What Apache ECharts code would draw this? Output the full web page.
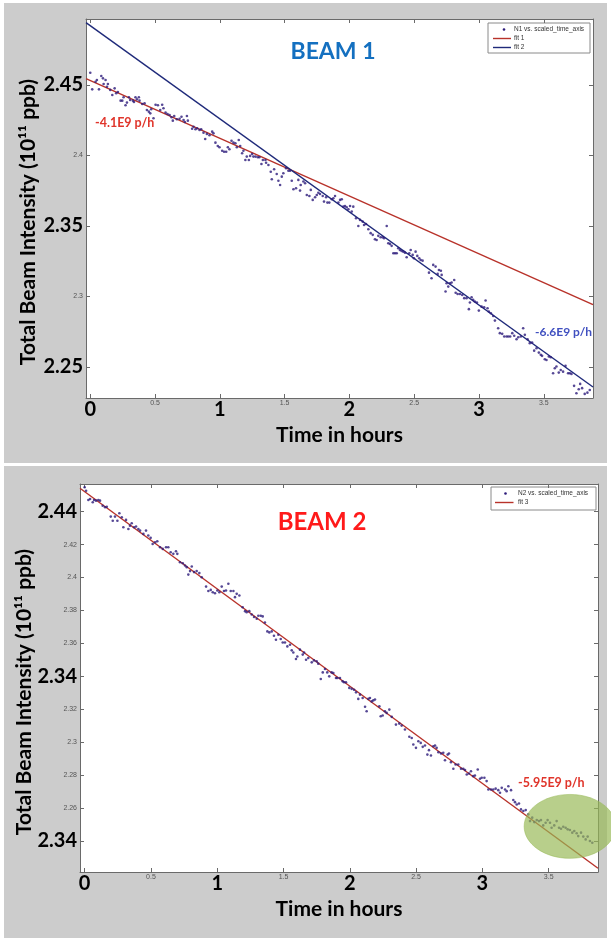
<!DOCTYPE html>
<html><head><meta charset="utf-8">
<script src="https://cdn.jsdelivr.net/npm/echarts@6/dist/echarts.min.js"></script>
<style>
html,body{margin:0;padding:0;background:#fff;width:611px;height:938px;overflow:hidden;}
#bg1{position:absolute;left:4px;top:3px;width:603px;height:460px;background:#cccccc;}
#bg2{position:absolute;left:4px;top:466px;width:603px;height:472px;background:#cccccc;}
#chart{position:absolute;left:0;top:0;width:611px;height:938px;}
</style></head><body>
<div id="bg1"></div><div id="bg2"></div><div id="chart"></div>
<script>
// ---------- DATA ----------
const b1Time = [0.000,0.015,0.041,0.051,0.067,0.085,0.098,0.103,0.118,0.129,0.136,0.154,0.170,0.188,0.200,0.213,0.234,0.247,0.257,0.272,0.283,0.298,0.308,0.329,0.337,0.349,0.360,0.375,0.380,0.401,0.419,0.437,0.452,0.463,0.470,0.488,0.504,0.522,0.540,0.555,0.565,0.581,0.596,0.612,0.627,0.637,0.648,0.668,0.689,0.704,0.720,0.730,0.746,0.753,0.786,0.797,0.812,0.825,0.843,0.856,0.874,0.887,0.900,0.920,0.941,0.951,0.966,0.984,0.997,1.018,1.033,1.049,1.062,1.074,1.090,1.105,1.120,1.131,1.146,1.157,1.172,1.182,1.197,1.208,1.224,1.234,1.249,1.259,1.275,1.293,1.305,1.321,1.332,1.352,
1.357,1.375,1.393,1.401,1.419,1.439,1.452,1.465,1.478,1.490,1.511,1.529,1.542,1.555,1.568,1.588,1.606,1.619,1.624,1.645,1.658,1.671,1.691,1.702,1.717,1.735,1.748,1.760,1.773,1.794,1.804,1.820,1.830,1.845,1.864,1.876,1.889,1.915,1.928,1.941,1.953,1.966,1.979,1.992,2.005,2.018,2.030,2.051,2.069,2.082,2.102,2.113,2.128,2.146,2.164,2.180,2.197,2.210,2.223,2.241,2.257,2.267,2.288,2.300,2.313,2.326,2.339,2.352,2.365,2.377,2.390,2.403,2.416,2.429,2.442,2.462,2.473,2.488,2.498,2.511,2.524,2.539,2.550,2.565,
2.614,2.634,2.647,2.665,2.681,2.691,2.706,2.712,2.742,2.750,2.763,2.776,2.789,2.809,2.820,2.835,2.853,2.871,2.886,2.904,2.922,2.930,2.943,2.955,2.968,2.984,2.999,3.020,3.040,3.051,3.066,3.076,3.092,3.110,3.123,3.148,3.161,3.179,3.195,3.213,3.226,3.241,3.257,3.272,3.290,3.303,3.323,3.341,3.354,3.375,3.392,3.410,3.426,3.444,3.462,3.477,3.487,3.508,3.521,3.539,3.554,3.572,3.585,3.598,3.616,3.631,3.649,3.668,3.688,3.701,3.714,3.734,3.752,3.770,3.781,3.796,3.816,3.837,3.855];
const b1Intensity = [2.4587,2.4469,2.4523,2.4535,2.4469,2.4564,2.4547,2.4507,2.4535,2.4488,2.4507,2.4465,2.4429,2.4476,2.4441,2.4450,2.4389,2.4389,2.4413,2.4356,2.4375,2.4413,2.4394,2.4389,2.4379,2.4413,2.4398,2.4413,2.4389,2.4365,2.4370,2.4323,2.4311,2.4299,2.4328,2.4264,2.4360,2.4356,2.4323,2.4360,2.4335,2.4304,2.4294,2.4287,2.4271,2.4247,2.4280,2.4257,2.4261,2.4275,2.4252,2.4238,2.4280,2.4247,2.4190,2.4204,2.4186,2.4193,2.4181,2.4186,2.4162,2.4117,2.4153,2.4143,2.4169,2.4157,2.4091,2.4067,2.4058,2.4034,2.4027,2.4027,2.4058,2.4044,2.4105,2.4091,2.4087,2.4058,2.4110,2.4067,2.4016,2.4034,2.3968,2.3992,2.3968,2.3997,2.4011,2.3992,2.3992,2.3987,2.3987,2.3940,2.3968,2.3968,
2.3949,2.3933,2.3885,2.3831,2.3902,2.3869,2.3821,2.3791,2.3850,2.3874,2.3909,2.3892,2.3892,2.3821,2.3761,2.3768,2.3827,2.3751,2.3791,2.3815,2.3803,2.3720,2.3713,2.3756,2.3685,2.3704,2.3720,2.3736,2.3727,2.3713,2.3673,2.3704,2.3666,2.3666,2.3690,2.3697,2.3713,2.3666,2.3685,2.3690,2.3637,2.3642,2.3633,2.3619,2.3642,2.3602,2.3637,2.3555,2.3500,2.3543,2.3531,2.3507,2.3514,2.3477,2.3449,2.3437,2.3406,2.3401,2.3430,2.3420,2.3420,2.3413,2.3500,2.3378,2.3373,2.3359,2.3307,2.3307,2.3307,2.3342,2.3330,2.3323,2.3318,2.3311,2.3278,2.3307,2.3330,2.3295,2.3271,2.3318,2.3288,2.3271,2.3259,2.3254,
2.3169,2.3129,2.3224,2.3212,2.3160,2.3188,2.3183,2.3153,2.3035,2.3094,2.3070,2.3094,2.3099,2.3117,2.3027,2.3018,2.3018,2.3011,2.2988,2.2988,2.2910,2.2957,2.2995,2.2976,2.2964,2.2957,2.2900,2.2928,2.2924,2.2971,2.2917,2.2893,2.2881,2.2862,2.2829,2.2775,2.2740,2.2735,2.2716,2.2716,2.2716,2.2716,2.2740,2.2721,2.2697,2.2711,2.2716,2.2775,2.2728,2.2697,2.2669,2.2673,2.2616,2.2633,2.2602,2.2586,2.2579,2.2555,2.2550,2.2574,2.2569,2.2456,2.2491,2.2503,2.2460,2.2479,2.2467,2.2508,2.2456,2.2456,2.2451,2.2366,2.2314,2.2342,2.2380,2.2350,2.2309,2.2318,2.2337];

const b2Time = [0.000,0.011,0.028,0.041,0.061,0.071,0.086,0.103,0.116,0.136,0.154,0.167,0.197,0.212,0.229,0.247,0.262,0.280,0.292,0.312,0.330,0.342,0.355,0.373,0.388,0.405,0.418,0.443,0.463,0.480,0.498,0.513,0.531,0.548,0.569,0.589,0.614,0.631,0.649,0.669,0.689,0.699,0.719,0.740,0.757,0.770,0.782,0.795,0.808,0.825,0.845,0.865,0.883,0.916,0.933,0.951,0.966,0.983,1.001,1.016,1.034,1.051,1.066,1.084,1.102,1.122,1.134,1.147,1.167,1.192,1.210,1.222,1.242,1.260,1.278,1.298,
1.310,1.328,1.343,1.360,1.378,1.393,1.411,1.428,1.443,1.461,1.479,1.494,1.511,1.529,1.549,1.562,1.574,1.594,1.604,1.624,1.645,1.655,1.670,1.687,1.713,1.730,1.750,1.762,1.781,1.796,1.813,1.830,1.845,1.863,1.876,1.896,1.906,1.926,1.946,1.956,1.971,1.996,2.014,2.032,2.047,2.064,2.077,2.097,2.115,2.127,2.140,2.152,2.165,2.177,2.190,2.223,2.233,2.248,2.265,2.278,2.298,2.316,2.348,2.373,2.391,2.416,2.449,2.467,2.479,2.499,2.517,2.535,2.550,2.567,2.585,
2.597,2.612,2.630,2.643,2.655,2.668,2.688,2.705,2.718,2.738,2.748,2.763,2.781,2.798,2.818,2.839,2.856,2.869,2.882,2.899,2.914,2.931,2.944,2.965,2.982,2.995,3.015,3.032,3.045,3.065,3.082,3.100,3.120,3.133,3.146,3.171,3.183,3.196,3.216,3.233,3.246,3.259,3.276,3.291,3.309,3.327,3.346,3.359,3.376,3.391,3.410,3.427,3.442,3.459,3.477,3.492,3.510,3.522,3.542,3.560,3.578,3.593,3.610,3.628,3.643,3.660,3.678,3.693,3.711,3.723,3.744,3.761,3.779,3.794,3.811,3.829];
const b2Intensity = [2.4548,2.4527,2.4471,2.4477,2.4457,2.4471,2.4467,2.4471,2.4467,2.4436,2.4427,2.4430,2.4370,2.4345,2.4370,2.4345,2.4390,2.4366,2.4305,2.4350,2.4295,2.4315,2.4330,2.4305,2.4310,2.4295,2.4285,2.4265,2.4285,2.4255,2.4241,2.4204,2.4214,2.4220,2.4184,2.4174,2.4184,2.4184,2.4154,2.4144,2.4160,2.4144,2.4093,2.4087,2.4073,2.4063,2.4018,2.4039,2.4067,2.4033,2.4039,2.4027,2.4002,2.3945,2.3918,2.3925,2.3911,2.3905,2.3921,2.3911,2.3945,2.3918,2.3921,2.3962,2.3918,2.3918,2.3881,2.3901,2.3891,2.3820,2.3796,2.3790,2.3796,2.3776,2.3760,2.3750,
2.3768,2.3768,2.3764,2.3727,2.3673,2.3667,2.3673,2.3647,2.3622,2.3653,2.3627,2.3606,2.3606,2.3582,2.3592,2.3558,2.3545,2.3505,2.3521,2.3562,2.3532,2.3545,2.3501,2.3511,2.3485,2.3497,2.3491,2.3477,2.3384,2.3424,2.3445,2.3424,2.3400,2.3424,2.3420,2.3390,2.3390,2.3390,2.3370,2.3364,2.3364,2.3330,2.3324,2.3319,2.3303,2.3263,2.3289,2.3269,2.3215,2.3188,2.3263,2.3269,2.3248,2.3254,2.3259,2.3218,2.3158,2.3162,2.3188,2.3178,2.3198,2.3154,2.3107,2.3113,2.3101,2.3077,2.3033,2.3026,2.2986,2.2966,2.3006,2.2996,2.2972,2.2980,2.2925,
2.2952,2.2919,2.2976,2.2980,2.2966,2.2939,2.2932,2.2936,2.2891,2.2925,2.2932,2.2879,2.2839,2.2865,2.2865,2.2839,2.2839,2.2831,2.2804,2.2810,2.2824,2.2794,2.2798,2.2834,2.2778,2.2784,2.2784,2.2764,2.2713,2.2713,2.2713,2.2718,2.2709,2.2693,2.2723,2.2713,2.2703,2.2733,2.2709,2.2649,2.2636,2.2622,2.2628,2.2592,2.2582,2.2588,2.2562,2.2521,2.2542,2.2515,2.2527,2.2521,2.2527,2.2495,2.2511,2.2527,2.2511,2.2481,2.2495,2.2521,2.2481,2.2475,2.2487,2.2481,2.2471,2.2467,2.2451,2.2461,2.2447,2.2430,2.2451,2.2427,2.2410,2.2427,2.2400,2.2390];

// fit lines (end points read at the plot edges)
const fit1Time = [-0.033, 3.88];
const fit1Value = [2.4545, 2.2943];
const fit2Time = [-0.033, 3.88];
const fit2Value = [2.4942, 2.2358];
const fit3Time = [-0.035, 3.872];
const fit3Value = [2.4542, 2.2235];

// axes
const xTicks = [0, 0.5, 1, 1.5, 2, 2.5, 3, 3.5];
const xTickLabels = ['0', '0.5', '1', '1.5', '2', '2.5', '3', '3.5'];
const xTickBig = [true, false, true, false, true, false, true, false];
const y1Ticks = [2.25, 2.3, 2.35, 2.4, 2.45];
const y1TickLabels = ['2.25', '2.3', '2.35', '2.4', '2.45'];
const y1TickBig = [true, false, true, false, true];
const y2Ticks = [2.24, 2.26, 2.28, 2.3, 2.32, 2.34, 2.36, 2.38, 2.4, 2.42, 2.44];
const y2TickLabels = ['2.34', '2.26', '2.28', '2.3', '2.32', '2.34', '2.36', '2.38', '2.4', '2.42', '2.44'];
const y2TickBig = [true, false, false, false, false, true, false, false, false, false, true];

// green highlight (data coords)
const ellipseCenter = [3.66, 2.2489];
const ellipseRadius = [0.345, 0.0194];

// ---------- CHART ----------
const chart = echarts.init(document.getElementById('chart'), null, {renderer: 'canvas'});
const FONT = 'Lato, "Open Sans", sans-serif';
const rich = {
  big: {fontFamily: FONT, fontWeight: 'bold', fontSize: 20, color: '#000'},
  small: {fontFamily: '"Liberation Sans", Arial, sans-serif', fontSize: 7, color: '#555'}
};
function labelFormatter(ticks, labels, big) {
  return function (v) {
    for (let i = 0; i < ticks.length; i++) {
      if (Math.abs(ticks[i] - v) < 1e-6) return big[i] ? '{big|' + labels[i] + '}' : '{small|' + labels[i] + '}';
    }
    return '';
  };
}
const lineStyleAxis = {color: '#6a6a6a', width: 1};
function xAxisPair(grid, min, max) {
  return [
    {type: 'value', gridIndex: grid, min: min, max: max, position: 'bottom',
     axisLine: {show: true, onZero: false, lineStyle: lineStyleAxis},
     axisTick: {show: true, inside: true, length: 4, customValues: xTicks, lineStyle: lineStyleAxis},
     axisLabel: {show: true, margin: 2, customValues: xTicks, formatter: labelFormatter(xTicks, xTickLabels, xTickBig), rich: rich},
     splitLine: {show: false},
     name: 'Time in hours', nameLocation: 'middle', nameGap: 27,
     nameTextStyle: {fontFamily: FONT, fontWeight: 'bold', fontSize: 21, color: '#000'}},
    {type: 'value', gridIndex: grid, min: min, max: max, position: 'top',
     axisLine: {show: true, onZero: false, lineStyle: lineStyleAxis},
     axisTick: {show: true, inside: true, length: 4, customValues: xTicks, lineStyle: lineStyleAxis},
     axisLabel: {show: false}, splitLine: {show: false}}
  ];
}
function yAxisPair(grid, min, max, ticks, labels, big) {
  return [
    {type: 'value', gridIndex: grid, min: min, max: max, position: 'left',
     axisLine: {show: true, onZero: false, lineStyle: lineStyleAxis},
     axisTick: {show: true, inside: true, length: 4, customValues: ticks, lineStyle: lineStyleAxis},
     axisLabel: {show: true, margin: 3, customValues: ticks, formatter: labelFormatter(ticks, labels, big), rich: rich},
     splitLine: {show: false}},
    {type: 'value', gridIndex: grid, min: min, max: max, position: 'right',
     axisLine: {show: true, onZero: false, lineStyle: lineStyleAxis},
     axisTick: {show: true, inside: true, length: 4, customValues: ticks, lineStyle: lineStyleAxis},
     axisLabel: {show: false}, splitLine: {show: false}}
  ];
}
function zip(a, b) { return a.map((v, i) => [v, b[i]]); }

const dotColor = '#2c1a7a';
const redFit = '#b8322a';
const blueFit = '#1f2a7a';

const option = {
  animation: false,
  backgroundColor: 'transparent',
  grid: [
    {left: 86, top: 19, width: 507, height: 379, show: true, backgroundColor: '#fff', borderWidth: 0},
    {left: 80, top: 484, width: 518, height: 388, show: true, backgroundColor: '#fff', borderWidth: 0}
  ],
  xAxis: [].concat(xAxisPair(0, -0.033, 3.88), xAxisPair(1, -0.035, 3.872)),
  yAxis: [].concat(yAxisPair(0, 2.228, 2.4968, y1Ticks, y1TickLabels, y1TickBig),
                   yAxisPair(1, 2.2212, 2.4568, y2Ticks, y2TickLabels, y2TickBig)),
  series: [
    {name: 'N1 vs. scaled_time_axis', type: 'scatter', xAxisIndex: 0, yAxisIndex: 0, data: zip(b1Time, b1Intensity),
     symbol: 'circle', symbolSize: 2.6, itemStyle: {color: dotColor}, z: 3},
    {name: 'fit 1', type: 'line', xAxisIndex: 0, yAxisIndex: 0, data: zip(fit1Time, fit1Value), symbol: 'none',
     lineStyle: {color: redFit, width: 1.4}, z: 2},
    {name: 'fit 2', type: 'line', xAxisIndex: 0, yAxisIndex: 0, data: zip(fit2Time, fit2Value), symbol: 'none',
     lineStyle: {color: blueFit, width: 1.4}, z: 2},
    {name: 'N2 vs. scaled_time_axis', type: 'scatter', xAxisIndex: 2, yAxisIndex: 2, data: zip(b2Time, b2Intensity),
     symbol: 'circle', symbolSize: 2.6, itemStyle: {color: dotColor}, z: 3},
    {name: 'fit 3', type: 'line', xAxisIndex: 2, yAxisIndex: 2, data: zip(fit3Time, fit3Value), symbol: 'none',
     lineStyle: {color: redFit, width: 1.4}, z: 2}
  ]
};
chart.setOption(option);

// ---------- annotations ----------
const p0 = chart.convertToPixel({xAxisIndex: 2, yAxisIndex: 2}, ellipseCenter);
const p1 = chart.convertToPixel({xAxisIndex: 2, yAxisIndex: 2}, [ellipseCenter[0] + ellipseRadius[0], ellipseCenter[1] + ellipseRadius[1]]);

function legendGroup(x, y, w, h, rows) {
  const children = [{type: 'rect', shape: {x: 0, y: 0, width: w, height: h}, style: {fill: '#fff', stroke: '#8a8a8a', lineWidth: 1}}];
  rows.forEach(r => {
    if (r.kind === 'dot') {
      children.push({type: 'circle', shape: {cx: r.mx, cy: r.y, r: 1.3}, style: {fill: dotColor}});
    } else {
      children.push({type: 'line', shape: {x1: r.lx1, y1: r.y, x2: r.lx2, y2: r.y}, style: {stroke: r.color, lineWidth: 1.4}});
    }
    children.push({type: 'text', x: r.tx, y: r.y, style: {text: r.text, fill: '#333', font: '6.5px "Liberation Sans", Arial, sans-serif', verticalAlign: 'middle', align: 'left'}});
  });
  return {type: 'group', x: x, y: y, children: children, z: 50};
}

const yTitle = 'Total Beam Intensity (10\u00B9\u00B9 ppb)';
chart.setOption({
  graphic: [
    {type: 'text', x: 333, y: 52, style: {text: 'BEAM 1', fill: '#1470c0', font: 'bold 23px ' + FONT, align: 'center', verticalAlign: 'middle'}, z: 50},
    {type: 'text', x: 322, y: 522, style: {text: 'BEAM 2', fill: '#ff1a1a', font: 'bold 24px ' + FONT, align: 'center', verticalAlign: 'middle'}, z: 50},
    {type: 'text', x: 95, y: 123, style: {text: '-4.1E9 p/h', fill: '#e0352b', font: 'bold 12.5px ' + FONT, align: 'left', verticalAlign: 'middle'}, z: 50},
    {type: 'text', x: 535, y: 332, style: {text: '-6.6E9 p/h', fill: '#4050c0', font: 'bold 12px ' + FONT, align: 'left', verticalAlign: 'middle'}, z: 50},
    {type: 'text', x: 518, y: 783, style: {text: '-5.95E9 p/h', fill: '#e0352b', font: 'bold 12.5px ' + FONT, align: 'left', verticalAlign: 'middle'}, z: 50},
    {type: 'text', x: 28, y: 222, rotation: Math.PI / 2, style: {text: yTitle, fill: '#000', font: 'bold 21px ' + FONT, align: 'center', verticalAlign: 'middle'}, z: 50},
    {type: 'text', x: 24, y: 692, rotation: Math.PI / 2, style: {text: yTitle, fill: '#000', font: 'bold 21px ' + FONT, align: 'center', verticalAlign: 'middle'}, z: 50},
    legendGroup(488, 23, 102, 30, [
      {kind: 'dot', mx: 16, y: 6.5, tx: 26, text: 'N1 vs. scaled_time_axis'},
      {kind: 'line', lx1: 5, lx2: 23, y: 15.5, color: redFit, tx: 26, text: 'fit 1'},
      {kind: 'line', lx1: 5, lx2: 23, y: 24.5, color: blueFit, tx: 26, text: 'fit 2'}
    ]),
    legendGroup(491, 487, 105, 23, [
      {kind: 'dot', mx: 14.5, y: 6.5, tx: 27, text: 'N2 vs. scaled_time_axis'},
      {kind: 'line', lx1: 4, lx2: 22.5, y: 15.5, color: redFit, tx: 27, text: 'fit 3'}
    ]),
    {type: 'ellipse', shape: {cx: p0[0], cy: p0[1], rx: Math.abs(p1[0] - p0[0]), ry: Math.abs(p1[1] - p0[1])},
     style: {fill: 'rgba(150,184,84,0.68)', stroke: 'rgba(150,184,84,0.5)', lineWidth: 1}, z: 60}
  ]
});
</script></body></html>
